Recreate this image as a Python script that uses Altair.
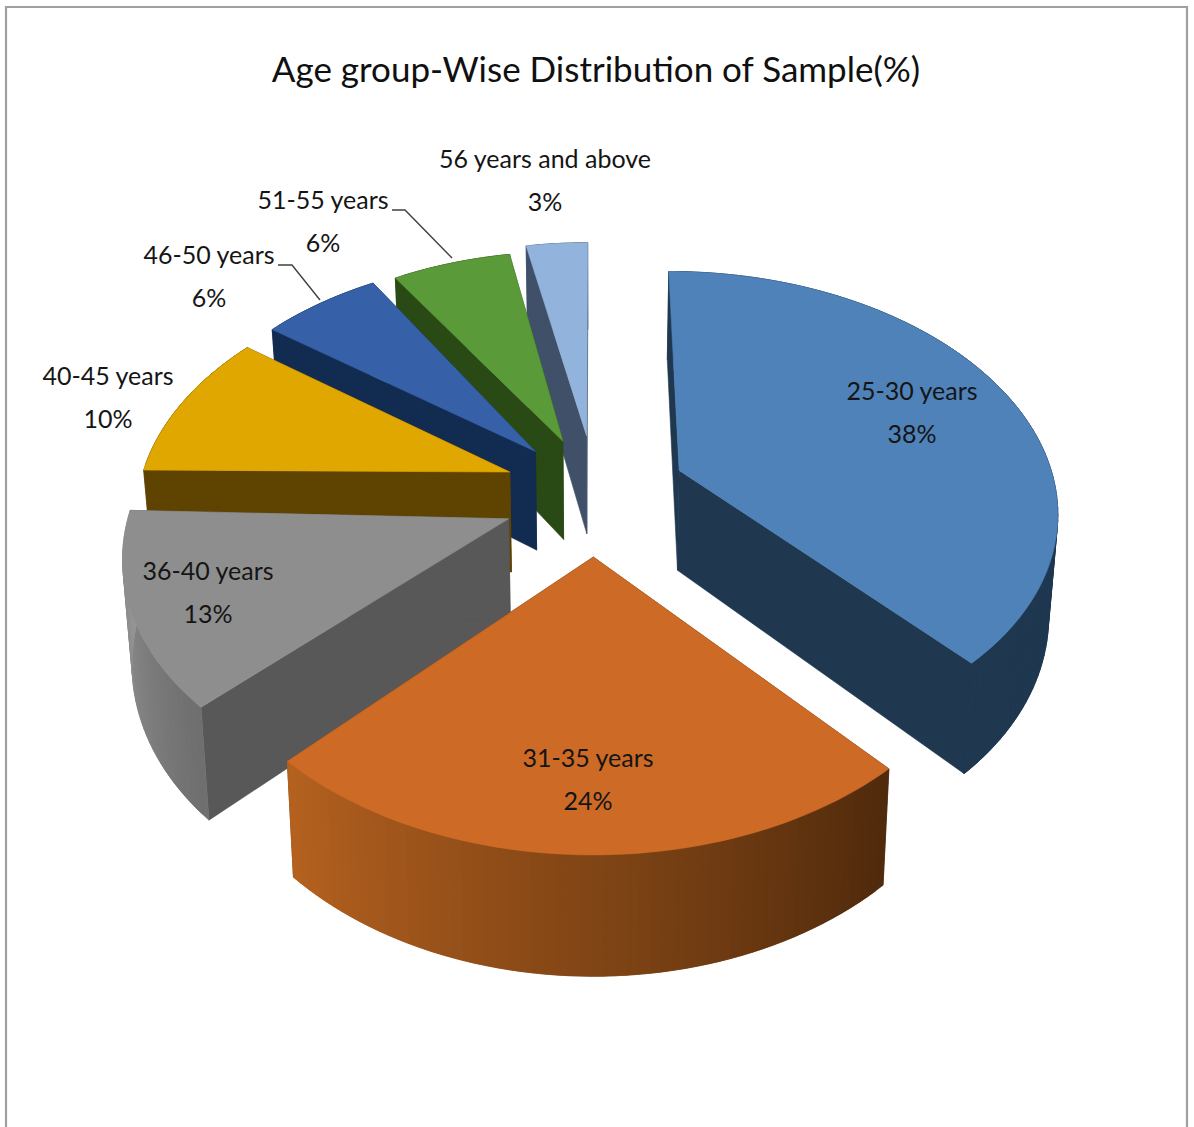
import math
import altair as alt

# Survey figures
age_groups = ["25-30 years", "31-35 years", "36-40 years", "40-45 years",
              "46-50 years", "51-55 years", "56 years and above"]
shares = [38, 24, 13, 10, 6, 6, 3]
chart_title = "Age group-Wise  Distribution of Sample(%)"

# Slice colours: top face, cut wall, rim wall at start and end of the sweep
top_colors = ["#4F82B9", "#CC6A26", "#8E8E8E", "#E0A700", "#3661A8", "#5A9A38", "#92B4DC"]
wall_colors = ["#1F3850", "#5A300E", "#585858", "#5F4300", "#122B50", "#2A4A15", "#3F5068"]
rim_start = ["#1F3850", "#4F2A0C", "#6E6E6E", "#5F4300", "#122B50", "#2A4A15", "#3F5068"]
rim_end = ["#1F3850", "#B5611F", "#989898", "#5F4300", "#122B50", "#2A4A15", "#3F5068"]

# Centre of each two-line label
label_x = [912, 588, 208, 108, 209, 323, 545]
label_y = [392, 759, 572, 377, 256, 201, 160]
line_gap = 43

# Perspective camera for the exploded pie
CX, CY = 595, 497.5
RADIUS_X, RADIUS_Y = 382, 240
PERSPECTIVE = 0.135
EXPLODE = 0.24
DEPTH = 101
TAPER = 0.98
PAINT_ORDER = [6, 5, 4, 3, 0, 2, 1]

# Per-slice view adjustments: turn in degrees, radius factor, apex lift in pixels
slice_turn = [-0.1, 1.0, 2.0, 2.0, 1.5, 0.5, 0.0]
slice_radius = [0.99, 1.0, 0.985, 0.975, 0.975, 0.965, 1.0]
apex_lift = [6, 0, 0, 6, 4, 4, 6]


def project(gx, gv, lowered=False, lift=0):
    s = 1 / (1 - PERSPECTIVE * gv)
    x = RADIUS_X * gx * s
    y = CY + RADIUS_Y * gv * s - lift
    if lowered:
        return [CX + x * TAPER, y + DEPTH * s]
    return [CX + x, y]


def feature(ring, fill):
    closed = ring + [ring[0]]
    return {"type": "Feature", "properties": {"fill": fill},
            "geometry": {"type": "Polygon", "coordinates": [closed]}}


def mix(a, b, t):
    pa = [int(a[i:i + 2], 16) for i in (1, 3, 5)]
    pb = [int(b[i:i + 2], 16) for i in (1, 3, 5)]
    return "#" + "".join(f"{round(p + (q - p) * t):02X}" for p, q in zip(pa, pb))


def slice_faces(i):
    start = sum(shares[:i]) * 3.6 + slice_turn[i]
    end = start + shares[i] * 3.6
    mid = math.radians((start + end) / 2)
    ox, ov = EXPLODE * math.sin(mid), -EXPLODE * math.cos(mid)
    steps = max(6, int(shares[i] * 2.4))
    angles = [math.radians(start + (end - start) * k / steps) for k in range(steps + 1)]
    r = slice_radius[i]
    rim = [(ox + r * math.sin(a), ov - r * math.cos(a)) for a in angles]
    lift = apex_lift[i]

    faces = []
    # Flat walls along the two cuts go first, the rim covers whatever they overrun
    for gx, gv in (rim[0], rim[-1]):
        quad = [project(ox, ov, lift=lift), project(gx, gv), project(gx, gv, True),
                project(ox, ov, True, lift)]
        faces.append(feature(quad, wall_colors[i]))
    # Outer wall: each overlapping strip is painted over by the next, so no seams show
    for k in range(steps):
        band = rim[k:k + 3]
        ring = [project(*p) for p in band] + [project(*p, True) for p in reversed(band)]
        faces.append(feature(ring, mix(rim_start[i], rim_end[i], (k + 0.5) / steps)))
    # Top face
    ring = [project(ox, ov, lift=lift)] + [project(gx, gv) for gx, gv in rim]
    faces.append(feature(ring, top_colors[i]))
    return faces


faces = [f for i in PAINT_ORDER for f in slice_faces(i)]

identity = dict(type="identity", scale=1, translate=[0, 0])

pie = (
    alt.Chart(alt.Data(values=faces))
    .mark_geoshape(strokeWidth=0.6)
    .encode(fill=alt.Fill("properties.fill:N", scale=None),
            stroke=alt.Stroke("properties.fill:N", scale=None))
    .project(**identity)
)


def polyline(points, color):
    return {"type": "Feature", "properties": {"color": color},
            "geometry": {"type": "LineString", "coordinates": points}}


frame = (
    alt.Chart(alt.Data(values=[polyline([[6, 1127], [6, 7], [1187, 7], [1187, 1127]], "#A0A0A0")]))
    .mark_geoshape(filled=False, strokeWidth=2.2)
    .encode(stroke=alt.Stroke("properties.color:N", scale=None))
    .project(**identity)
)

leaders = (
    alt.Chart(alt.Data(values=[
        polyline([[278, 265], [292, 265], [320, 300]], "#404040"),
        polyline([[392, 210], [405, 210], [452, 258]], "#404040"),
    ]))
    .mark_geoshape(filled=False, strokeWidth=1.4)
    .encode(stroke=alt.Stroke("properties.color:N", scale=None))
    .project(**identity)
)

rows = []
for name, share, lx, ly in zip(age_groups, shares, label_x, label_y):
    rows.append({"text": name, "lon": lx, "lat": ly})
    rows.append({"text": f"{share}%", "lon": lx, "lat": ly + line_gap})

labels = (
    alt.Chart(alt.Data(values=rows))
    .mark_text(font="Lato", fontSize=25, color="#151515",
               align="center", baseline="middle")
    .encode(longitude="lon:Q", latitude="lat:Q", text="text:N")
    .project(**identity)
)

chart = (
    alt.layer(frame, pie, leaders, labels)
    .properties(
        width=1194, height=1127,
        padding=0,
        autosize=alt.AutoSizeParams(type="none"),
        background="white",
        title=alt.TitleParams(chart_title, font="Lato", fontSize=35,
                              fontWeight="normal", color="#101010", anchor="middle",
                              orient="top", offset=0, baseline="middle", dy=106, dx=-1),
    )
    .configure_view(stroke=None)
)

chart.save("out.html", embed_options={"renderer": "svg", "actions": False})
